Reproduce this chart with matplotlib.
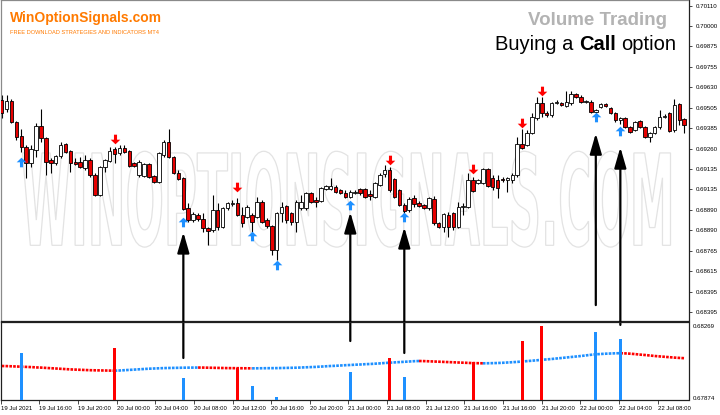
import numpy as np
import matplotlib
matplotlib.use("Agg")
import matplotlib.pyplot as plt
from matplotlib.path import Path
from matplotlib.textpath import TextPath
from matplotlib.patches import PathPatch
from matplotlib.font_manager import FontProperties, fontManager
import matplotlib.transforms as mtransforms

# ---------------- data (M30 candles) ----------------
opens = [0.69579,0.69529,0.69574,0.69456,0.69378,0.69317,0.69228,0.69300,0.69434,0.69367,
0.69244,0.69228,0.69267,0.69334,0.69295,0.69233,0.69233,0.69200,0.69244,0.69161,
0.69049,0.69205,0.69239,0.69306,0.69283,0.69311,0.69295,0.69228,0.69161,0.69155,
0.69222,0.69155,0.69121,0.69272,0.69345,0.69261,0.69172,0.69144,0.68976,0.68909,
0.68937,0.68915,0.68864,0.68853,0.68965,0.68870,0.68976,0.68998,0.69004,0.68937,
0.68926,0.68937,0.68926,0.69010,0.68909,0.68876,0.68741,0.68948,0.68987,0.68948,
0.68898,0.68976,0.68976,0.69060,0.69021,0.69015,0.69082,0.69082,0.69093,0.69077,
0.69060,0.69038,0.69060,0.69082,0.69082,0.69054,0.69038,0.69105,0.69166,0.69188,
0.69138,0.69077,0.68993,0.68965,0.69032,0.69004,0.68993,0.68976,0.69026,0.68892,
0.68870,0.68937,0.68948,0.68870,0.68982,0.68982,0.69133,0.69116,0.69116,0.69194,
0.69144,0.69133,0.69138,0.69133,0.69133,0.69161,0.69334,0.69328,0.69395,0.69479,
0.69563,0.69506,0.69496,0.69563,0.69563,0.69546,0.69563,0.69613,0.69596,0.69568,
0.69568,0.69512,0.69540,0.69557,0.69535,0.69506,0.69468,0.69479,0.69429,0.69412,
0.69462,0.69429,0.69373,0.69395,0.69429,0.69484,0.69506,0.69412,0.69557,0.69473]

highs = [0.69607,0.69607,0.69585,0.69462,0.69417,0.69328,0.69328,0.69451,0.69529,0.69373,
0.69256,0.69272,0.69345,0.69339,0.69300,0.69256,0.69261,0.69272,0.69256,0.69172,
0.69211,0.69250,0.69317,0.69317,0.69328,0.69328,0.69300,0.69233,0.69244,0.69228,
0.69228,0.69161,0.69289,0.69356,0.69417,0.69267,0.69188,0.69149,0.69004,0.68954,
0.68948,0.68948,0.68870,0.69049,0.69004,0.68982,0.69010,0.69021,0.69032,0.68982,
0.68993,0.68948,0.69038,0.69021,0.68920,0.68881,0.68954,0.69010,0.68993,0.68954,
0.69021,0.69049,0.69065,0.69065,0.69038,0.69093,0.69105,0.69144,0.69105,0.69082,
0.69077,0.69077,0.69077,0.69088,0.69088,0.69077,0.69121,0.69172,0.69216,0.69205,
0.69144,0.69082,0.69004,0.69038,0.69049,0.69015,0.68998,0.69038,0.69043,0.68898,
0.68948,0.68954,0.68954,0.69010,0.69004,0.69172,0.69149,0.69138,0.69200,0.69200,
0.69161,0.69161,0.69149,0.69149,0.69172,0.69373,0.69417,0.69412,0.69506,0.69596,
0.69596,0.69518,0.69568,0.69579,0.69568,0.69630,0.69630,0.69619,0.69607,0.69579,
0.69579,0.69529,0.69563,0.69563,0.69540,0.69512,0.69484,0.69484,0.69434,0.69462,
0.69468,0.69434,0.69401,0.69434,0.69524,0.69501,0.69512,0.69585,0.69563,0.69479]

lows = [0.69479,0.69512,0.69451,0.69356,0.69289,0.69144,0.69205,0.69261,0.69345,0.69161,
0.69172,0.69216,0.69256,0.69283,0.69177,0.69216,0.69200,0.69188,0.69149,0.69043,
0.69043,0.69177,0.69233,0.69228,0.69272,0.69283,0.69205,0.69205,0.69149,0.69149,
0.69144,0.69116,0.69116,0.69261,0.69256,0.69166,0.69133,0.68965,0.68898,0.68898,
0.68903,0.68842,0.68769,0.68842,0.68853,0.68864,0.68965,0.68987,0.68931,0.68870,
0.68920,0.68842,0.68920,0.68892,0.68864,0.68714,0.68686,0.68898,0.68892,0.68881,
0.68842,0.68965,0.68965,0.69004,0.68982,0.69010,0.69077,0.69077,0.69060,0.69054,
0.69032,0.69032,0.69054,0.69049,0.69032,0.69021,0.69032,0.69099,0.69149,0.69065,
0.69032,0.68987,0.68948,0.68954,0.68982,0.68982,0.68970,0.68965,0.68881,0.68864,
0.68842,0.68814,0.68853,0.68864,0.68937,0.68976,0.69065,0.69110,0.69110,0.69093,
0.69077,0.69032,0.69121,0.69065,0.69116,0.69149,0.69306,0.69322,0.69389,0.69468,
0.69484,0.69484,0.69484,0.69557,0.69546,0.69540,0.69552,0.69591,0.69563,0.69563,
0.69506,0.69506,0.69535,0.69540,0.69501,0.69456,0.69445,0.69423,0.69395,0.69406,
0.69423,0.69367,0.69345,0.69389,0.69417,0.69479,0.69401,0.69401,0.69440,0.69395]

closes = [0.69506,0.69574,0.69456,0.69373,0.69317,0.69228,0.69306,0.69434,0.69367,0.69233,
0.69228,0.69267,0.69328,0.69289,0.69228,0.69222,0.69205,0.69244,0.69161,0.69049,
0.69205,0.69244,0.69295,0.69278,0.69311,0.69289,0.69211,0.69211,0.69233,0.69222,
0.69149,0.69121,0.69283,0.69345,0.69261,0.69172,0.69138,0.68970,0.68909,0.68943,
0.68915,0.68864,0.68848,0.68965,0.68870,0.68976,0.69004,0.69004,0.68937,0.68892,
0.68982,0.68898,0.69010,0.68898,0.68876,0.68741,0.68948,0.68982,0.68909,0.68898,
0.69010,0.69010,0.69060,0.69010,0.69010,0.69088,0.69099,0.69099,0.69065,0.69060,
0.69038,0.69065,0.69065,0.69060,0.69038,0.69043,0.69116,0.69161,0.69188,0.69077,
0.69038,0.68993,0.68959,0.69026,0.68998,0.68987,0.68976,0.69032,0.68892,0.68870,
0.68943,0.68870,0.68870,0.68982,0.68987,0.69133,0.69071,0.69133,0.69194,0.69099,
0.69093,0.69088,0.69133,0.69144,0.69161,0.69334,0.69311,0.69395,0.69484,0.69563,
0.69506,0.69496,0.69563,0.69568,0.69552,0.69568,0.69613,0.69596,0.69568,0.69574,
0.69512,0.69524,0.69557,0.69546,0.69506,0.69468,0.69479,0.69429,0.69401,0.69456,
0.69429,0.69373,0.69395,0.69429,0.69484,0.69490,0.69406,0.69552,0.69468,0.69440]

# signal arrows (bar index, price)
call_idx = [4, 37, 51, 56, 71, 82, 121, 126]
call_arrow_price = [0.69233, 0.68898, 0.68820, 0.68658, 0.68993, 0.68926, 0.69484, 0.69406]
put_idx = [23, 48, 79, 96, 106, 110]
put_arrow_price = [0.69362, 0.69093, 0.69244, 0.69194, 0.69451, 0.69630]

# volume-indicator histogram (signal bars)
call_volume = [47, 22, 14, 3, 28, 23, 68, 61]
put_volume = [52, 32, 42, 38, 59, 74]

# smoothed volume line (one value per candle)
ma_values = [34.0,33.9,33.7,33.5,33.3,33.1,32.9,32.6,32.4,32.1,31.8,31.5,31.2,30.9,30.6,30.4,
30.2,30.0,29.8,29.7,29.6,29.5,29.4,29.3,
29.5,29.8,30.1,30.4,30.7,31.0,31.3,31.5,31.7,31.9,32.0,32.1,32.2,32.3,32.35,32.4,32.45,
32.4,32.3,32.2,32.1,32.0,31.9,31.85,31.8,31.75,31.7,31.65,
31.7,31.75,31.8,31.85,31.9,32.0,32.1,32.2,32.3,32.5,32.7,32.9,33.1,33.4,33.7,34.0,34.2,
34.5,34.8,35.0,35.3,35.5,35.8,36.0,36.3,36.6,37.0,37.3,37.6,37.9,38.2,38.5,38.8,39.0,
38.9,38.7,38.5,38.3,38.1,37.9,37.7,37.5,37.3,37.1,36.9,36.8,36.7,
36.75,36.85,37.0,37.2,37.5,37.8,38.1,38.5,38.9,39.3,39.7,40.2,40.6,41.0,41.5,42.0,42.5,
43.0,43.5,44.0,44.6,45.2,45.7,46.0,46.3,46.5,46.7,46.8,
46.6,46.3,45.9,45.4,45.0,44.5,44.0,43.6,43.2,42.8,42.4,42.1,41.8]

# big black "call" arrows: bar index, tip price, tail price
big_arrow_idx = [37, 71, 82, 121, 126]
big_arrow_tip = [0.68842, 0.68954, 0.68870, 0.69395, 0.69317]
big_arrow_tail = [0.68138, 0.68233, 0.68166, 0.68434, 0.68323]

price_tick_labels = ["0.70110", "0.70000", "0.69875", "0.69755", "0.69630", "0.69505",
                     "0.69385", "0.69260", "0.69135", "0.69135", "0.68890", "0.68890",
                     "0.68765", "0.68615", "0.68395", "0.68395"]
vol_tick_labels = ["0.68269", "0.67874"]
x_labels = ["19 Jul 2021", "19 Jul 16:00", "19 Jul 20:00", "20 Jul 00:00", "20 Jul 04:00",
            "20 Jul 08:00", "20 Jul 12:00", "20 Jul 16:00", "20 Jul 20:00", "21 Jul 00:00",
            "21 Jul 08:00", "21 Jul 12:00", "21 Jul 16:00", "21 Jul 16:00", "21 Jul 20:00",
            "22 Jul 00:00", "22 Jul 04:00", "22 Jul 08:00"]

# ---------------- fonts ----------------
names = {f.name for f in fontManager.ttflist}
narrow = "Liberation Sans Narrow" if "Liberation Sans Narrow" in names else "Liberation Sans"
small_font = "Liberation Sans"

RED = "#ff0000"
BLUE = "#1e90ff"

W, H = 720, 415
fig = plt.figure(figsize=(W / 100, H / 100), dpi=100)
fig.patch.set_facecolor("white")

ax = fig.add_axes([0.5 / W, 1 - 321 / H, 688 / W, 320.5 / H])
axv = fig.add_axes([0.5 / W, 15 / H, 688 / W, 78 / H])

o = np.array(opens); hi = np.array(highs); lo = np.array(lows); c = np.array(closes)
idx = np.arange(len(o))
bull = c >= o

# watermark
fp_wm = FontProperties(family="DejaVu Sans", weight="bold")
tp = TextPath((0, 0), "WINOPTIONSIGNALS.COM", size=10, prop=fp_wm)
bb = tp.get_extents()
bx0, by0, bw, bh = 22 / 688, 1 - 247 / 321, 648 / 688, 96 / 321
tr = (mtransforms.Affine2D().translate(-bb.x0, -bb.y0)
      .scale(bw / bb.width, bh / bb.height).translate(bx0, by0) + ax.transAxes)
ax.add_patch(PathPatch(tp, transform=tr, fc="none", ec="#e3e3e3", lw=0.9, zorder=0))

# candles
ax.vlines(idx, lo, hi, color="black", lw=0.8, zorder=2)
body_bottom = np.minimum(o, c)
body_h = np.maximum(np.abs(c - o), 0.00002)
ax.bar(idx, body_h, bottom=body_bottom, width=0.72,
       color=np.where(bull, "white", "#e60000"), edgecolor="black", linewidth=0.6, zorder=3)

# small signal arrows
up_arrow = Path([(0, 0.5), (0.5, 0.02), (0.16, 0.02), (0.16, -0.5), (-0.16, -0.5),
                 (-0.16, 0.02), (-0.5, 0.02), (0, 0.5)], closed=True)
down_arrow = Path([(x, -y) for x, y in up_arrow.vertices], closed=True)
ax.scatter(call_idx, call_arrow_price, marker=up_arrow, s=48, color=BLUE, linewidths=0, zorder=4)
ax.scatter(put_idx, put_arrow_price, marker=down_arrow, s=48, color=RED, linewidths=0, zorder=4)

# axes ranges
xlim = (-0.24, 139.88)
ax.set_xlim(*xlim)
axv.set_xlim(*xlim)
ax.set_ylim(0.68345, 0.70138)
axv.set_ylim(0, 78)

# price ticks (right side)
price_ticks = 0.70110 - 0.0011435 * np.arange(len(price_tick_labels))
ax.yaxis.tick_right()
ax.set_yticks(price_ticks)
ax.set_yticklabels(price_tick_labels, fontsize=4.4, family=small_font)
ax.tick_params(axis="y", direction="out", length=2, width=0.5, pad=3, colors="black")
ax.tick_params(axis="x", bottom=False, labelbottom=False)

# volume panel
axv.bar(call_idx, call_volume, width=0.62, color=BLUE, zorder=3)
axv.bar(put_idx, put_volume, width=0.62, color=RED, zorder=3)
ma = np.array(ma_values)
seg_up = np.diff(ma) > 0
start = 0
for k in range(1, len(seg_up) + 1):
    if k == len(seg_up) or seg_up[k] != seg_up[start]:
        xs = idx[start:k + 1]
        axv.plot(xs, ma[start:k + 1], color=BLUE if seg_up[start] else RED,
                 lw=1.9, ls=(0, (1.0, 0.45)), solid_capstyle="butt", zorder=2)
        start = k
axv.yaxis.tick_right()
axv.set_yticks([74, 2])
axv.set_yticklabels(vol_tick_labels, fontsize=4.4, family=small_font)
axv.tick_params(axis="y", length=0, pad=3)
tick_pos = -0.2 + 7.87 * np.arange(len(x_labels))
axv.set_xticks(tick_pos)
axv.set_xticklabels(x_labels, fontsize=4.3, family=small_font, ha="left")
axv.tick_params(axis="x", direction="out", length=3, width=0.5, pad=1.5)
axv.patch.set_alpha(0)

for a in (ax, axv):
    for s in a.spines.values():
        s.set_color("#202020")
        s.set_linewidth(0.9)
ax.spines["top"].set_color("#8a8a8a")
ax.spines["left"].set_color("#8a8a8a")

# big black arrows from the volume panel up to the price chart
for i, tip, tail in zip(big_arrow_idx, big_arrow_tip, big_arrow_tail):
    ann = ax.annotate("", xy=(i, tip), xytext=(i, tail), xycoords="data",
                      annotation_clip=False,
                      arrowprops=dict(arrowstyle="-|>,head_length=1.25,head_width=0.36",
                                      color="black", lw=1.6, shrinkA=0, shrinkB=0,
                                      mutation_scale=10))
    ann.set_zorder(6)
    ann.arrow_patch.set_clip_on(False)

# titles and logo
fig.text(10 / W, 1 - 22 / H, "WinOptionSignals.com", color="#ff7a00", fontsize=10,
         family=narrow, weight="bold", ha="left", va="baseline")
fig.text(10 / W, 1 - 33.5 / H, "FREE DOWNLOAD STRATEGIES AND INDICATORS MT4", color="#ff7a00",
         fontsize=4.1, family=small_font, ha="left", va="baseline")
fig.text(667 / W, 1 - 25 / H, "Volume Trading", color="#b3b3b3", fontsize=13.5,
         family=narrow, weight="bold", ha="right", va="baseline")

renderer = fig.canvas.get_renderer()
ybase = 1 - 50.5 / H
sp = 5.2 / W
t3 = fig.text(676 / W, ybase, "option", fontsize=14.5, family="Liberation Sans",
              ha="right", va="baseline", color="black")
b3 = t3.get_window_extent(renderer)
t2 = fig.text(b3.x0 / W - sp, ybase, "Call", fontsize=14.5, family="Liberation Sans",
              weight="bold", ha="right", va="baseline", color="black")
b2 = t2.get_window_extent(renderer)
fig.text(b2.x0 / W - sp, ybase, "Buying a", fontsize=14.5, family="Liberation Sans",
         ha="right", va="baseline", color="black")

fig.savefig("out.png", dpi=100, facecolor="white")
